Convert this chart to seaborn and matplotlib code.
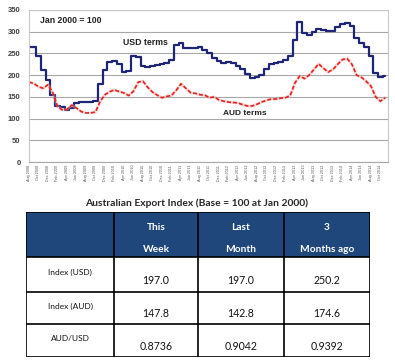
import numpy as np
import pandas as pd
import matplotlib
matplotlib.use("Agg")
import matplotlib.pyplot as plt
import matplotlib.patches as mpatches
import seaborn as sns

# ---------------------------------------------------------------
# Data (monthly)
# ---------------------------------------------------------------
months = pd.date_range("2008-08-01", periods=76, freq="MS")

usd_index = [265, 265, 245, 212, 188, 155, 128, 127, 120, 125,
             137, 138, 138, 138, 140, 180, 212, 230, 233, 225,
             207, 210, 245, 242, 220, 218, 222, 223, 226, 228,
             235, 270, 275, 262, 263, 263, 265, 258, 250, 240,
             233, 228, 230, 228, 222, 215, 203, 194, 196, 200,
             215, 225, 228, 230, 235, 243, 281, 322, 296, 293,
             300, 306, 304, 302, 302, 311, 318, 320, 313, 285,
             274, 264, 245, 205, 196, 197]

aud_index = [184, 181, 173, 170, 178, 160, 128, 120, 121, 131,
             124, 116, 113, 113, 115, 140, 155, 162, 166, 162,
             159, 153, 163, 184, 186, 172, 161, 154, 148, 151,
             153, 165, 180, 170, 160, 158, 155, 154, 148, 150,
             143, 140, 138, 137, 136, 132, 129, 129, 133, 138,
             142, 145, 145, 147, 148, 153, 182, 198, 192, 200,
             213, 226, 216, 207, 213, 225, 236, 238, 225, 200,
             195, 186, 175, 150, 140, 148]

tick_labels = [d.strftime("%b %Y") for d in months[::2]]

table_title = "Australian Export Index (Base = 100 at Jan 2000)"
col_headers = ["", "This\nWeek", "Last\nMonth", "3\nMonths ago"]
row_labels = ["Index (USD)", "Index (AUD)", "AUD/USD"]
this_week = ["197.0", "147.8", "0.8736"]
last_month = ["197.0", "142.8", "0.9042"]
three_months_ago = ["250.2", "174.6", "0.9392"]

df = pd.DataFrame({"m": np.arange(len(months)), "usd": usd_index, "aud": aud_index})

# ---------------------------------------------------------------
# Line chart
# ---------------------------------------------------------------
sns.set_style("white")
plt.rcParams["font.family"] = ["Liberation Sans", "DejaVu Sans"]

fig = plt.figure(figsize=(3.95, 3.62), dpi=100)
ax = fig.add_axes([29 / 395, 1 - 162 / 362, 359 / 395, 152 / 362])

sns.lineplot(data=df, x="m", y="usd", ax=ax, color="#1f2576", lw=1.6,
             drawstyle="steps-mid")
sns.lineplot(data=df, x="m", y="aud", ax=ax, color="#f6a9a9", lw=2.2, alpha=0.45)
sns.lineplot(data=df, x="m", y="aud", ax=ax, color="#e3231d", lw=1.2,
             linestyle=(0, (2.4, 1.2)))

ax.set_xlim(0, 75.6)
ax.set_ylim(0, 350)
ax.set_yticks(range(0, 351, 50))
ax.yaxis.grid(True, color="#a8a8a8", lw=0.8)
ax.set_xticks(df["m"][::2])
ax.set_xticklabels(tick_labels, rotation=90, fontsize=2.7, color="#555555")
ax.tick_params(axis="x", length=0, pad=2)
ax.tick_params(axis="y", length=0, pad=6, labelsize=5.5, labelcolor="#404040")
for lbl in ax.get_yticklabels():
    lbl.set_fontweight("bold")
ax.set_xlabel("")
ax.set_ylabel("")
for side in ["top", "right", "left"]:
    ax.spines[side].set_color("#c8c8c8")
    ax.spines[side].set_linewidth(0.8)
ax.spines["bottom"].set_color("#a8a8a8")
ax.spines["bottom"].set_linewidth(0.8)

ax.text(0.031, 0.928, "Jan 2000 = 100", transform=ax.transAxes, fontsize=6.3,
        fontweight="bold", color="#222222", va="center")
ax.text(0.262, 0.783, "USD terms", transform=ax.transAxes, fontsize=6.3,
        fontweight="bold", color="#222222", va="center")
ax.text(0.540, 0.322, "AUD terms", transform=ax.transAxes, fontsize=6.0,
        fontweight="bold", color="#222222", va="center")

# ---------------------------------------------------------------
# Table
# ---------------------------------------------------------------
fig.text(197 / 395, 1 - 203 / 362, table_title, ha="center", va="center",
         fontsize=7.4, fontweight="bold", family=["Lato", "DejaVu Sans"])

col_edges = [26, 114, 198, 284, 370]
row_edges = [212, 257, 292, 324, 357]

tab = fig.add_axes([26 / 395, 1 - 357 / 362, 344 / 395, 145 / 362])
tab.set_xlim(26, 370)
tab.set_ylim(357, 212)
tab.axis("off")

header_color = "#1f477b"
tab.add_patch(mpatches.Rectangle((col_edges[0], row_edges[0]),
                                 col_edges[-1] - col_edges[0],
                                 row_edges[1] - row_edges[0],
                                 fc=header_color, ec="none"))
for x in col_edges:
    tab.plot([x, x], [row_edges[0], row_edges[-1]], color="black", lw=1.2,
             solid_capstyle="projecting")
for y in row_edges:
    tab.plot([col_edges[0], col_edges[-1]], [y, y], color="black", lw=1.2,
             solid_capstyle="projecting")

for i, head in enumerate(col_headers):
    if not head:
        continue
    cx = (col_edges[i] + col_edges[i + 1]) / 2
    top, bottom = head.split("\n")
    tab.text(cx, 227, top, ha="center", va="center", color="white",
             fontsize=7.3, fontweight="bold", family=["Lato", "DejaVu Sans"])
    tab.text(cx, 250, bottom, ha="center", va="center", color="white",
             fontsize=7.3, fontweight="bold", family=["Lato", "DejaVu Sans"])

columns = [this_week, last_month, three_months_ago]
for r, label in enumerate(row_labels):
    top, bottom = row_edges[r + 1], row_edges[r + 2]
    h = bottom - top
    cx0 = (col_edges[0] + col_edges[1]) / 2
    tab.text(cx0, top + 0.45 * h, label, ha="center", va="center",
             fontsize=6.0, color="#111111", family=["Lato", "DejaVu Sans"])
    for c, col in enumerate(columns):
        cx = (col_edges[c + 1] + col_edges[c + 2]) / 2
        tab.text(cx, top + 0.68 * h, col[r], ha="center", va="center",
                 fontsize=7.6, color="#111111", family=["Lato", "DejaVu Sans"])

fig.savefig("out.png", dpi=100)
